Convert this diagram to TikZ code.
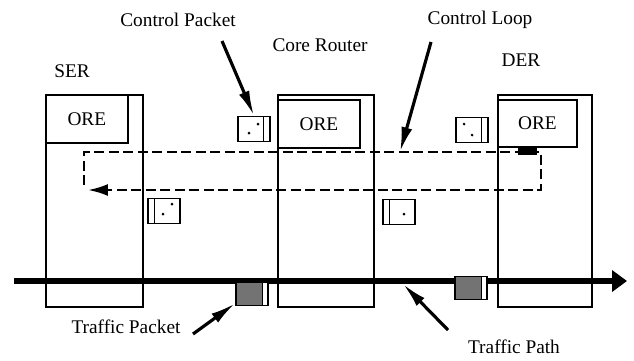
\documentclass[tikz,border=0pt]{standalone}
\usepackage{fontspec}
\setmainfont{Liberation Serif}
\usepackage{tikz}
\usetikzlibrary{arrows.meta, calc}

\begin{document}
\begin{tikzpicture}[
    x=0.02cm, y=-0.02cm,
    >=Latex,
    font=\fontsize{11}{13}\selectfont,
    routernode/.style={rectangle, draw, line width=1pt, anchor=north west, inner sep=0pt, minimum height=4.24cm},
    orenode/.style={rectangle, draw, line width=1pt, anchor=north west, inner sep=0pt, minimum width=1.64cm, minimum height=0.96cm},
    cpacket/.style={rectangle, draw, line width=1pt, fill=white, inner sep=0pt, minimum width=0.64cm, minimum height=0.5cm},
    stripright/.style={path picture={\draw[line width=1pt] ([xshift=-0.13cm]path picture bounding box.north east) -- ([xshift=-0.13cm]path picture bounding box.south east);}},
    stripleft/.style={path picture={\draw[line width=1pt] ([xshift=0.13cm]path picture bounding box.north west) -- ([xshift=0.13cm]path picture bounding box.south west);}},
    tpacket/.style={rectangle, draw, line width=1pt, fill=white, inner sep=0pt, minimum width=0.64cm, minimum height=0.46cm,
      path picture={\fill[black!55] (path picture bounding box.south west) rectangle ([xshift=-0.11cm]path picture bounding box.north east);
        \draw[line width=1pt] ([xshift=-0.11cm]path picture bounding box.north east) -- ([xshift=-0.11cm]path picture bounding box.south east);}},
    labelnode/.style={inner sep=1pt},
    callout/.style={line width=1.8pt, -{Latex[length=0.5cm, width=0.22cm]}},
    loopline/.style={line width=1.4pt, dash pattern=on 0.2cm off 0.09cm}
  ]
  \useasboundingbox (0,0) rectangle (634,360);

  % Routers
  \node[routernode, minimum width=1.94cm] (ser) at (45,94) {};
  \node[orenode] (serore) at (45,94) {ORE};
  \node[routernode, minimum width=1.92cm] (core) at (277,94) {};
  \node[orenode] (coreore) at (277,99) {ORE};
  \node[routernode, minimum width=1.88cm] (der) at (497,94) {};
  \node[orenode, minimum width=1.58cm, minimum height=0.94cm] (derore) at (497,99) {ORE};

  \node[labelnode] (serlabel) at (72,71) {SER};
  \node[labelnode] (corelabel) at (320,45) {Core Router};
  \node[labelnode] (derlabel) at (521,60) {DER};

  % Control loop
  \draw[loopline] (84,185) -- (84,152) -- (541,152) -- (541,190) -- (100,190);
  \draw[line width=1.4pt, -{Latex[length=0.4cm, width=0.24cm]}] (104,190) -- (88,190);
  \fill (518,147) rectangle (537,155);
  \coordinate (looptop) at (400,152);

  % Control packets
  \node[cpacket, stripright] (cp1) at (254,129) {};
  \node[cpacket, stripright] (cp2) at (472,130) {};
  \node[cpacket, stripleft] (cp3) at (164,211) {};
  \node[cpacket, stripleft] (cp4) at (399,212) {};
  \foreach \px/\py in {249/133, 258/124, 464/124, 472/135, 163/214, 172/204, 404/214}
    \fill (\px,\py) circle[radius=0.03cm];

  % Traffic path
  \coordinate (pathstart) at (14,281);
  \coordinate (pathend) at (627,281);
  \coordinate (pathpt) at (403,284);
  \draw[line width=3.4pt, -{Triangle[length=0.3cm, width=0.42cm]}] (pathstart) -- (pathend);

  \node[tpacket] (tp1) at (252,294) {};
  \node[tpacket] (tp2) at (471,288) {};

  % Labels and callouts
  \node[labelnode] (cplabel) at (178,20) {Control Packet};
  \node[labelnode] (cllabel) at (480,20) {Control Loop};
  \node[labelnode] (tplabel) at (126,327) {Traffic Packet};
  \node[labelnode] (pathlabel) at (514,347) {Traffic Path};

  \draw[callout] ($(cplabel)+(44,21)$) -- (cp1.north);
  \draw[callout] ($(cllabel)+(-49,22)$) -- (looptop);
  \draw[callout] ($(tplabel)+(67,7)$) -- ($(tp1.south west)+(0,-3)$);
  \draw[callout] ($(pathlabel)+(-66,-17)$) -- (pathpt);

\end{tikzpicture}
\end{document}
